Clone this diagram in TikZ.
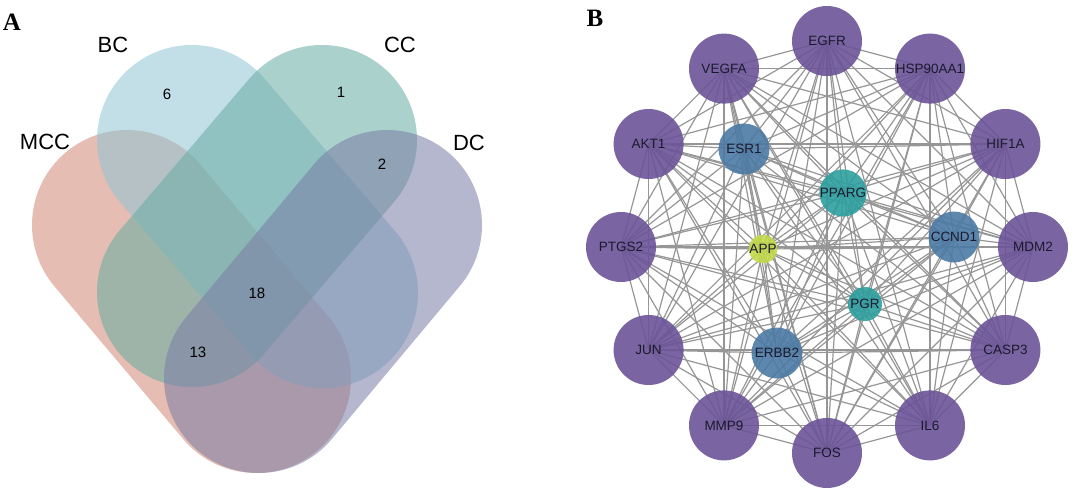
\documentclass[tikz,border=0pt]{standalone}
\usepackage{fontspec}
\setmainfont{Liberation Sans}
\newfontfamily\panelfont{Liberation Serif}
\pgfdeclarelayer{bg}
\pgfsetlayers{bg,main}
\definecolor{mccC}{RGB}{209,138,118}
\definecolor{bcC}{RGB}{146,196,213}
\definecolor{ccC}{RGB}{104,173,164}
\definecolor{dcC}{RGB}{122,126,166}
\definecolor{hubP}{RGB}{107,84,152}
\definecolor{hubB}{RGB}{76,122,165}
\definecolor{hubT}{RGB}{46,158,158}
\definecolor{hubY}{RGB}{195,217,75}
\definecolor{edgeG}{RGB}{150,150,150}
\definecolor{labC}{RGB}{26,26,46}
\begin{document}
\begin{tikzpicture}[x=1pt,y=-1pt,
  setband/.style={line width=190pt,line cap=round,draw opacity=0.56},
  setlabel/.style={font=\fontsize{22}{24}\selectfont,inner sep=0pt},
  count/.style={font=\fontsize{15}{17}\selectfont,inner sep=0pt},
  panel/.style={font=\panelfont\bfseries\fontsize{25}{27}\selectfont,inner sep=0pt},
  gene/.style={circle,inner sep=0pt,fill opacity=0.9,text opacity=1,text=labC,font=\fontsize{13.5}{15}\selectfont},
  outer/.style={gene,fill=hubP,minimum size=70pt},
  bignode/.style={gene,fill=hubB,minimum size=51pt},
  midnode/.style={gene,fill=hubT,minimum size=34pt},
  smallnode/.style={gene,fill=hubY,minimum size=22pt},
  edge/.style={draw=edgeG,line width=1.2pt}]
\useasboundingbox (0,0) rectangle (1080,493);
% ---------- Panel A: Venn ----------
\node[panel] (labA) at (12,22) {A};
\coordinate (m1) at (127,225); \coordinate (m2) at (256,378);
\coordinate (b1) at (192,140); \coordinate (b2) at (323,293);
\coordinate (c1) at (322,140); \coordinate (c2) at (192,292);
\coordinate (d1) at (387,225); \coordinate (d2) at (259,378);
\draw[setband,draw=mccC] (m1) -- (m2);
\draw[setband,draw=bcC] (b1) -- (b2);
\draw[setband,draw=ccC] (c1) -- (c2);
\draw[setband,draw=dcC] (d1) -- (d2);
\node[setlabel] (lBC) at (113,45) {BC};
\node[setlabel] (lCC) at (400,45) {CC};
\node[setlabel] (lMCC) at (45,142) {MCC};
\node[setlabel] (lDC) at (469,143) {DC};
\node[count] (n6) at (167,94) {6};
\node[count] (n1) at (341,92) {1};
\node[count] (n2) at (382,164) {2};
\node[count] (n18) at (257,293) {18};
\node[count] (n13) at (198,352) {13};
% ---------- Panel B: network ----------
\node[panel] (labB) at (595,18) {B};
\begin{scope}[shift={(827,247)}]
\node[outer] (egfr) at (-90:206) {EGFR};
\node[outer] (hsp) at (-60:206) {HSP90AA1};
\node[outer] (hif) at (-30:206) {HIF1A};
\node[outer] (mdm) at (0:206) {MDM2};
\node[outer] (casp) at (30:206) {CASP3};
\node[outer] (il6) at (60:206) {IL6};
\node[outer] (fos) at (90:206) {FOS};
\node[outer] (mmp) at (120:206) {MMP9};
\node[outer] (jun) at (150:206) {JUN};
\node[outer] (ptgs) at (180:206) {PTGS2};
\node[outer] (akt) at (210:206) {AKT1};
\node[outer] (vegfa) at (240:206) {VEGFA};
\end{scope}
\node[bignode] (esr) at (744,149) {ESR1};
\node[midnode] (pparg) at (843,193) {PPARG};
\node[bignode] (ccnd) at (954,237) {CCND1};
\node[smallnode] (app) at (763,249) {APP};
\node[midnode] (pgr) at (865,304) {PGR};
\node[bignode] (erbb) at (777,353) {ERBB2};
\begin{pgfonlayer}{bg}
\foreach \a [count=\i] in {egfr,hsp,hif,mdm,casp,il6,fos,mmp,jun,ptgs,akt,vegfa,esr,pparg,ccnd,app,pgr,erbb}{
  \foreach \b [count=\j] in {egfr,hsp,hif,mdm,casp,il6,fos,mmp,jun,ptgs,akt,vegfa,esr,pparg,ccnd,app,pgr,erbb}{
    \ifnum\j>\i \draw[edge] (\a.center) -- (\b.center);\fi
  }
}
\end{pgfonlayer}
\end{tikzpicture}
\end{document}
